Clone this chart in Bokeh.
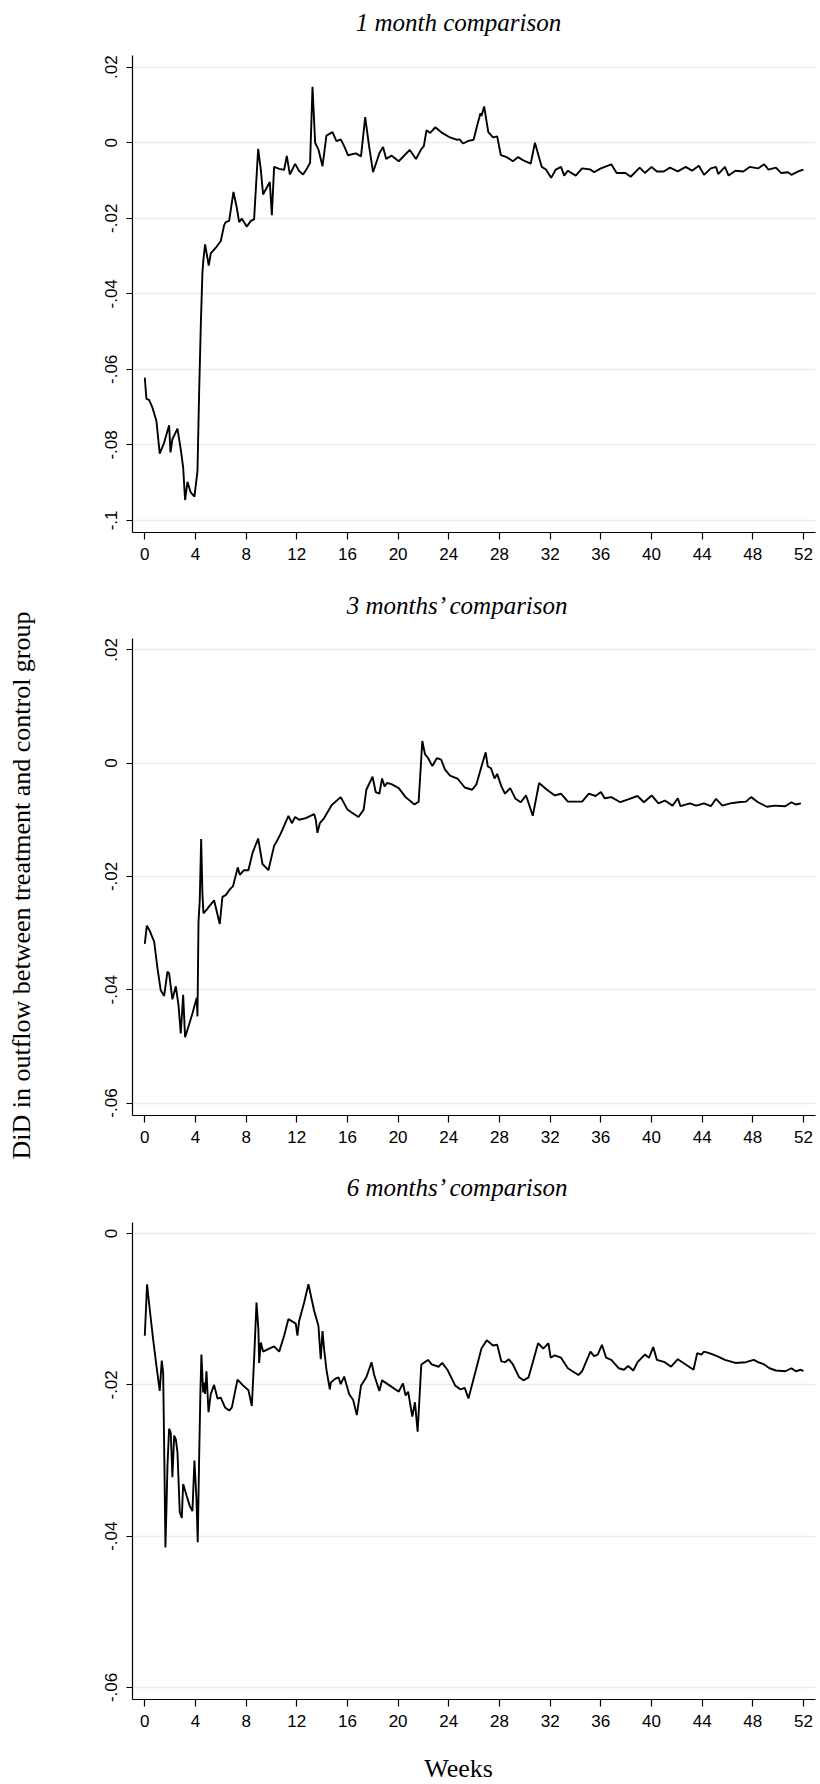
import math
from bokeh.plotting import figure
from bokeh.layouts import row, column
from bokeh.models import FixedTicker, CustomJSTickFormatter, Label, Range1d
from bokeh.embed import file_html
from bokeh.resources import INLINE

# ---------------- data ----------------
weeks_1m = [0, 0.13, 0.34, 0.6, 0.92, 1.18, 1.53, 1.92, 2.03, 2.18, 2.58, 2.84, 3.03, 3.18, 3.37, 3.63, 3.92,
            4.16, 4.29, 4.42, 4.55, 4.63, 4.76, 4.92, 5.05, 5.21, 5.61, 6.0, 6.26, 6.39, 6.66, 7.0, 7.24, 7.45,
            7.66, 8.05, 8.37, 8.63, 8.95, 9.16, 9.34, 9.55, 9.87, 10.03, 10.21, 10.61, 11.0, 11.21, 11.45, 11.87,
            12.18, 12.5, 12.84, 13.05, 13.24, 13.45, 13.71, 14.03, 14.34, 14.82, 15.13, 15.47, 15.74, 16.04,
            16.66, 17.07, 17.4, 17.69, 18.02, 18.52, 18.81, 19.06, 19.47, 20.05, 20.92, 21.41, 21.83, 22.03,
            22.24, 22.53, 22.94, 23.48, 24.1, 24.6, 24.85, 25.13, 25.55, 25.96, 26.25, 26.5, 26.58, 26.79, 27.12,
            27.49, 27.82, 28.11, 28.57, 29.06, 29.48, 29.89, 30.47, 30.8, 31.34, 31.67, 32.08, 32.45, 32.86,
            33.11, 33.4, 34.02, 34.52, 35.18, 35.47, 36.01, 36.83, 37.25, 37.95, 38.36, 39.07, 39.48, 40.01,
            40.43, 40.97, 41.46, 42.08, 42.7, 43.2, 43.74, 44.15, 44.69, 45.1, 45.27, 45.8, 46.09, 46.63, 47.25,
            47.75, 48.41, 48.9, 49.24, 49.82, 50.23, 50.77, 51.05, 51.59, 52.0]
did_1m = [-0.0622, -0.0678, -0.0681, -0.0701, -0.0737, -0.0823, -0.0794, -0.0748, -0.0820, -0.0785, -0.0757,
          -0.0812, -0.0860, -0.0946, -0.0898, -0.0926, -0.0937, -0.0869, -0.0662, -0.0485, -0.0344, -0.0309,
          -0.0269, -0.0300, -0.0325, -0.0293, -0.0278, -0.0260, -0.0219, -0.0210, -0.0207, -0.0130, -0.0168,
          -0.0210, -0.0201, -0.0222, -0.0207, -0.0203, -0.0016, -0.0071, -0.0137, -0.0124, -0.0104, -0.0192,
          -0.0064, -0.0069, -0.0072, -0.0035, -0.0084, -0.0056, -0.0075, -0.0084, -0.0066, -0.0053, 0.0148,
          0.0000, -0.0018, -0.0062, 0.0019, 0.0028, 0.0004, 0.0009, -0.0009, -0.0033, -0.0028, -0.0036, 0.0068,
          -0.0005, -0.0078, -0.0028, -0.0011, -0.0043, -0.0034, -0.0049, -0.0019, -0.0043, -0.0017, -0.0009,
          0.0033, 0.0026, 0.0041, 0.0026, 0.0014, 0.0008, 0.0009, -0.0002, 0.0005, 0.0008, 0.0047, 0.0078,
          0.0071, 0.0096, 0.0028, 0.0014, 0.0017, -0.0033, -0.0038, -0.0049, -0.0038, -0.0047, -0.0055, 0.0000,
          -0.0064, -0.0071, -0.0093, -0.0071, -0.0064, -0.0087, -0.0074, -0.0087, -0.0068, -0.0071, -0.0078,
          -0.0068, -0.0057, -0.0080, -0.0080, -0.0090, -0.0066, -0.0080, -0.0064, -0.0076, -0.0076, -0.0066,
          -0.0076, -0.0064, -0.0074, -0.0061, -0.0085, -0.0068, -0.0064, -0.0083, -0.0064, -0.0087, -0.0074,
          -0.0076, -0.0064, -0.0068, -0.0057, -0.0071, -0.0066, -0.0080, -0.0078, -0.0085, -0.0076, -0.0071]

weeks_3m = [0, 0.16, 0.39, 0.74, 1.0, 1.26, 1.53, 1.79, 1.92, 2.18, 2.45, 2.66, 2.84, 3.03, 3.18, 3.45, 3.76,
            4.1, 4.16, 4.24, 4.34, 4.45, 4.55, 4.63, 4.87, 5.47, 5.92, 6.13, 6.39, 6.71, 6.97, 7.34, 7.5, 7.84,
            8.18, 8.5, 8.95, 9.29, 9.76, 10.21, 10.42, 10.74, 11.34, 11.61, 11.87, 12.18, 12.71, 13.37, 13.5,
            13.63, 13.82, 14.16, 14.76, 15.47, 16.0, 16.39, 16.87, 17.28, 17.49, 17.98, 18.23, 18.52, 18.73,
            18.93, 19.14, 19.47, 20.05, 20.59, 21.29, 21.62, 21.91, 22.12, 22.36, 22.7, 23.07, 23.4, 23.69,
            24.1, 24.72, 25.26, 25.84, 26.17, 26.58, 26.91, 27.08, 27.33, 27.61, 27.82, 28.15, 28.44, 28.85,
            29.27, 29.68, 30.1, 30.63, 31.13, 31.75, 32.37, 32.86, 33.4, 34.02, 34.52, 35.06, 35.59, 36.01,
            36.3, 36.83, 37.54, 38.16, 38.9, 39.4, 40.02, 40.55, 41.05, 41.67, 42.08, 42.29, 43.03, 43.53,
            44.15, 44.69, 45.1, 45.6, 46.22, 46.84, 47.46, 47.87, 48.41, 49.11, 49.73, 50.56, 51.05, 51.39, 51.8]
did_3m = [-0.0319, -0.0287, -0.0296, -0.0315, -0.0362, -0.0401, -0.0411, -0.0368, -0.0371, -0.0417, -0.0394,
          -0.0427, -0.0477, -0.0409, -0.0484, -0.0465, -0.0442, -0.0414, -0.0447, -0.0280, -0.0242, -0.0134,
          -0.0230, -0.0265, -0.0259, -0.0242, -0.0284, -0.0236, -0.0233, -0.0223, -0.0217, -0.0184, -0.0197,
          -0.0189, -0.0189, -0.0159, -0.0133, -0.0178, -0.0189, -0.0146, -0.0138, -0.0124, -0.0093, -0.0106,
          -0.0095, -0.0100, -0.0097, -0.0090, -0.0100, -0.0123, -0.0106, -0.0097, -0.0074, -0.0060, -0.0082,
          -0.0088, -0.0095, -0.0082, -0.0047, -0.0024, -0.0051, -0.0054, -0.0027, -0.0041, -0.0035, -0.0037,
          -0.0044, -0.0060, -0.0073, -0.0068, 0.0039, 0.0016, 0.0009, -0.0005, 0.0009, 0.0006, -0.0011,
          -0.0022, -0.0028, -0.0043, -0.0047, -0.0038, -0.0006, 0.0019, -0.0006, -0.0009, -0.0027, -0.0019,
          -0.0041, -0.0054, -0.0044, -0.0063, -0.0069, -0.0057, -0.0093, -0.0035, -0.0047, -0.0057, -0.0054,
          -0.0068, -0.0068, -0.0068, -0.0054, -0.0058, -0.0051, -0.0062, -0.0060, -0.0069, -0.0064, -0.0058,
          -0.0069, -0.0057, -0.0071, -0.0066, -0.0075, -0.0062, -0.0076, -0.0071, -0.0075, -0.0071, -0.0076,
          -0.0063, -0.0075, -0.0071, -0.0069, -0.0068, -0.0060, -0.0069, -0.0077, -0.0075, -0.0076, -0.0069,
          -0.0073, -0.0071]

weeks_6m = [0, 0.18, 0.39, 0.66, 0.92, 1.18, 1.34, 1.45, 1.55, 1.63, 1.71, 1.79, 1.92, 2.05, 2.18, 2.32, 2.45,
            2.58, 2.76, 2.92, 3.03, 3.29, 3.55, 3.76, 3.92, 4.08, 4.18, 4.29, 4.39, 4.47, 4.61, 4.68, 4.76, 4.87,
            5.03, 5.21, 5.47, 5.74, 6.0, 6.34, 6.66, 6.87, 7.32, 7.71, 8.18, 8.45, 8.63, 8.82, 8.97, 9.03, 9.16,
            9.34, 9.82, 10.21, 10.61, 11.0, 11.34, 11.92, 12.05, 12.18, 12.58, 12.92, 13.37, 13.71, 13.89, 14.03,
            14.16, 14.34, 14.61, 14.68, 15.03, 15.29, 15.47, 15.74, 16.13, 16.45, 16.74, 17.07, 17.49, 17.9,
            18.11, 18.52, 18.73, 19.35, 20.05, 20.38, 20.59, 20.79, 21.12, 21.33, 21.54, 21.83, 22.36, 22.65,
            23.19, 23.48, 23.89, 24.51, 24.93, 25.26, 25.55, 25.96, 26.58, 27.0, 27.49, 27.82, 28.15, 28.44,
            28.73, 29.06, 29.56, 29.89, 30.3, 31.05, 31.46, 31.87, 32.04, 32.37, 32.86, 33.4, 34.23, 34.52,
            35.18, 35.47, 35.76, 36.09, 36.42, 36.83, 37.41, 37.83, 38.16, 38.57, 38.9, 39.48, 39.81, 40.14,
            40.43, 41.05, 41.55, 42.08, 42.7, 43.32, 43.61, 43.94, 44.15, 44.57, 45.18, 45.8, 46.63, 47.46,
            48.08, 48.41, 48.9, 49.32, 49.82, 50.56, 51.05, 51.39, 51.8, 52.0]
did_6m = [-0.0135, -0.0067, -0.0100, -0.0140, -0.0175, -0.0208, -0.0168, -0.0184, -0.0307, -0.0415, -0.0364,
          -0.0307, -0.0258, -0.0263, -0.0322, -0.0267, -0.0272, -0.0289, -0.0368, -0.0376, -0.0331, -0.0346,
          -0.0360, -0.0367, -0.0300, -0.0351, -0.0408, -0.0298, -0.0210, -0.0160, -0.0210, -0.0197, -0.0212,
          -0.0182, -0.0236, -0.0212, -0.0200, -0.0218, -0.0217, -0.0230, -0.0234, -0.0230, -0.0193, -0.0200,
          -0.0207, -0.0228, -0.0166, -0.0091, -0.0127, -0.0171, -0.0144, -0.0156, -0.0152, -0.0149, -0.0156,
          -0.0135, -0.0113, -0.0119, -0.0135, -0.0116, -0.0091, -0.0067, -0.0102, -0.0122, -0.0166, -0.0129,
          -0.0153, -0.0180, -0.0206, -0.0197, -0.0192, -0.0190, -0.0199, -0.0189, -0.0212, -0.0220, -0.0240,
          -0.0201, -0.0190, -0.0170, -0.0187, -0.0208, -0.0194, -0.0201, -0.0209, -0.0198, -0.0214, -0.0209,
          -0.0242, -0.0223, -0.0262, -0.0173, -0.0167, -0.0173, -0.0176, -0.0171, -0.0180, -0.0201, -0.0206,
          -0.0204, -0.0218, -0.0192, -0.0152, -0.0141, -0.0148, -0.0147, -0.0169, -0.0170, -0.0166, -0.0173,
          -0.0190, -0.0194, -0.0190, -0.0145, -0.0152, -0.0145, -0.0164, -0.0161, -0.0164, -0.0178, -0.0187,
          -0.0182, -0.0156, -0.0162, -0.0160, -0.0147, -0.0164, -0.0167, -0.0178, -0.0180, -0.0175, -0.0181,
          -0.0170, -0.0160, -0.0164, -0.0150, -0.0167, -0.0170, -0.0176, -0.0166, -0.0173, -0.0180, -0.0158,
          -0.0160, -0.0156, -0.0158, -0.0162, -0.0167, -0.0171, -0.0170, -0.0167, -0.0170, -0.0173, -0.0178,
          -0.0181, -0.0182, -0.0178, -0.0182, -0.0180, -0.0182]

week_ticks = [0, 4, 8, 12, 16, 20, 24, 28, 32, 36, 40, 44, 48, 52]
yticks_1m = [0.02, 0.0, -0.02, -0.04, -0.06, -0.08, -0.1]
yticks_3m = [0.02, 0.0, -0.02, -0.04, -0.06]
yticks_6m = [0.0, -0.02, -0.04, -0.06]

titles = ["1 month comparison", "3 months\u2019 comparison", "6 months\u2019 comparison"]
ylabel_text = "DiD in outflow between treatment and control group"
xlabel_text = "Weeks"

# ---------------- styling / geometry ----------------
W, H = 820, 1784
LW = 60            # width of the column holding the shared y label
PW = W - LW        # width of each panel figure
FRAME_LEFT = 132   # page x of the plot frame's left edge
FRAME_RIGHT = 5    # right border
TEXT_CX = 458      # page x of the centre of titles and "Weeks"
XR = (-0.97, 52.95)
SANS = "Liberation Sans"
SERIF = "Liberation Serif"
GRID = "#e6eef0"

fmt = CustomJSTickFormatter(code="""
if (Math.abs(tick) < 1e-9) { return '0'; }
var s = String(+tick.toFixed(3));
return s.replace('0.', '.');
""")


def blank(width, x0, x1, page_top, page_bottom, left=0, right=0):
    """A bare figure whose data space is page pixels (y grows downward)."""
    f = figure(width=width, height=page_bottom - page_top,
               x_range=Range1d(x0, x1), y_range=Range1d(page_bottom, page_top),
               output_backend="svg", toolbar_location=None,
               min_border=0, min_border_left=left, min_border_right=right,
               min_border_top=0, min_border_bottom=0)
    f.axis.visible = False
    f.grid.visible = False
    f.outline_line_color = None
    f.background_fill_color = None
    f.border_fill_color = None
    return f


def text_strip(text, page_top, page_bottom, cy, italic):
    # frame aligned with the panels' frames (page x FRAME_LEFT .. W - FRAME_RIGHT)
    f = blank(PW, FRAME_LEFT, W - FRAME_RIGHT, page_top, page_bottom,
              left=FRAME_LEFT - LW, right=FRAME_RIGHT)
    f.add_layout(Label(x=TEXT_CX, y=cy, text=text, text_font=SERIF,
                       text_font_style="italic" if italic else "normal",
                       text_font_size="25px" if italic else "26px",
                       text_color="black", text_align="center", text_baseline="middle"))
    return f


def panel(x, y, yticks, yrange, height, top, bottom):
    p = figure(width=PW, height=height, x_range=Range1d(*XR), y_range=Range1d(*yrange),
               output_backend="svg", toolbar_location=None,
               min_border_left=FRAME_LEFT - LW, min_border_right=FRAME_RIGHT,
               min_border_top=top, min_border_bottom=bottom)
    p.outline_line_color = None
    p.background_fill_color = "white"
    p.border_fill_color = "white"

    p.xgrid.visible = False
    p.ygrid.ticker = FixedTicker(ticks=yticks)
    p.ygrid.grid_line_color = GRID
    p.ygrid.grid_line_width = 1.6

    p.xaxis.ticker = FixedTicker(ticks=week_ticks)
    p.yaxis.ticker = FixedTicker(ticks=yticks)
    p.yaxis.formatter = fmt
    for ax in (p.xaxis, p.yaxis):
        ax.axis_line_color = "black"
        ax.axis_line_width = 1.2
        ax.major_tick_line_color = "black"
        ax.major_tick_line_width = 1.2
        ax.major_tick_in = 0
        ax.minor_tick_line_color = None
        ax.major_label_text_font = SANS
        ax.major_label_text_font_size = "17px"
        ax.major_label_text_color = "black"
    p.xaxis.major_tick_out = 7
    p.xaxis.major_label_standoff = 8
    p.yaxis.major_tick_out = 6
    p.yaxis.major_label_standoff = 9
    p.yaxis.major_label_orientation = "vertical"

    p.line(x, y, line_color="black", line_width=1.9)
    return p


t1 = text_strip(titles[0], 0, 45, 22, True)
p1 = panel(weeks_1m, did_1m, yticks_1m, (-0.1032, 0.0231), 535, 10, 48)
t2 = text_strip(titles[1], 580, 625, 604.6, True)
p2 = panel(weeks_3m, did_3m, yticks_3m, (-0.0622, 0.0220), 540, 13, 50)
t3 = text_strip(titles[2], 1165, 1205, 1187, True)
p3 = panel(weeks_6m, did_6m, yticks_6m, (-0.0616, 0.00147), 540, 17, 46)
wk = text_strip(xlabel_text, 1745, H, 1768, False)

# shared y-axis label column
lab = blank(LW, 0, LW, 0, H)
lab.add_layout(Label(x=21, y=885, text=ylabel_text, angle=math.pi / 2,
                     text_font=SERIF, text_font_size="26px", text_color="black",
                     text_align="center", text_baseline="middle"))

layout = row(lab, column(t1, p1, t2, p2, t3, p3, wk))

open("out.html", "w").write(file_html(layout, INLINE))
